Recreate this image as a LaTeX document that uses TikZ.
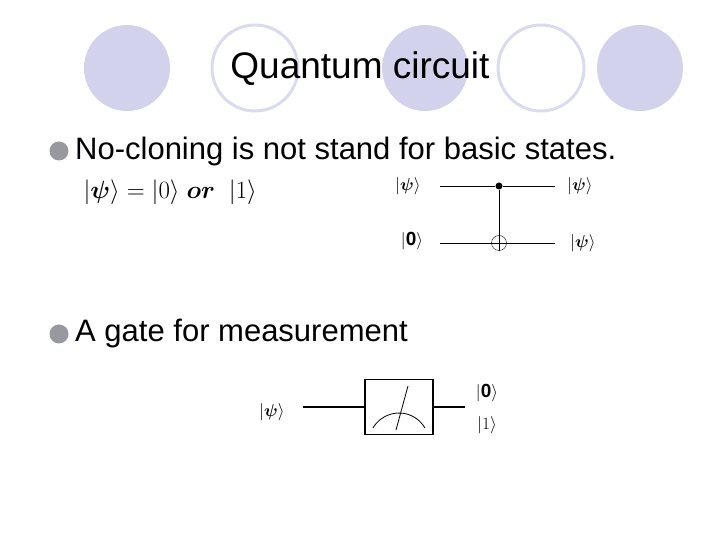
\documentclass[tikz,border=0pt]{standalone}
\usepackage{fontspec}
\setmainfont{Liberation Sans}
\usepackage{amsmath,bm}
\definecolor{lav}{RGB}{210,210,236}
\begin{document}
\begin{tikzpicture}[x=1pt,y=1pt,
  deco/.style = {circle, minimum size=86pt, inner sep=0pt},
  full/.style = {deco, fill=lav},
  ring/.style = {deco, fill=white, draw=lav!80, line width=3pt},
  bullet/.style = {circle, fill=gray!70!lav, minimum size=19pt, inner sep=0pt},
  body/.style = {anchor=west, font=\fontsize{31}{33}\selectfont, inner sep=0pt},
  ket/.style = {font=\fontsize{19}{20}\selectfont, inner sep=1pt},
  wire/.style = {line width=0.8pt}]
\useasboundingbox (0,0) rectangle (720,540);
% decoration
\node[full] (c1) at (127,472) {};
\node[ring] (c2) at (255,472) {};
\node[full] (c3) at (425,472) {};
\node[ring] (c4) at (541,472) {};
\node[full] (c5) at (640,472) {};
\node (title) at (360,471) {\fontsize{37}{39}\selectfont Quantum circuit};
% bullets
\node[bullet] (b1) at (59,389) {};
\node[body] (t1) at (75,389) {No-cloning is not stand for basic states.};
\node[bullet] (b2) at (59,206) {};
\node[body] (t2) at (75,206) {A gate for measurement};
\node[anchor=west, font=\fontsize{26}{28}\selectfont] (eq) at (80,348)
  {$|\bm{\psi}\rangle=|0\rangle\;\bm{or}\;\;|1\rangle$};
% cloning circuit
\node[ket] (pin) at (408,354) {$|\bm{\psi}\rangle$};
\node[ket] (zin) at (412,299) {$|\mathbf{0}\rangle$};
\node[ket] (pout) at (580,354) {$|\bm{\psi}\rangle$};
\node[ket] (pout2) at (583,297) {$|\bm{\psi}\rangle$};
\coordinate (a1) at (440,354);
\coordinate (a2) at (555,354);
\coordinate (a3) at (440,297);
\coordinate (a4) at (555,297);
\node[circle, fill, inner sep=0pt, minimum size=7pt] (ctrl) at (499,354) {};
\node[circle, draw, inner sep=0pt, minimum size=15pt] (targ) at (499,297) {};
\draw[wire] (a1) -- (ctrl) -- (a2);
\draw[wire] (a3) -- (targ.west) (targ.east) -- (a4);
\draw[wire] (ctrl) -- (targ.south);
\draw[wire] (targ.west) -- (targ.east);
% measurement
\node[ket] (mpsi) at (272,128) {$|\bm{\psi}\rangle$};
\node[draw, line width=1.2pt, minimum width=68pt, minimum height=55pt] (meter) at (399,133) {};
\node[ket] (m0) at (487,147) {$|\mathbf{0}\rangle$};
\node[ket] (m1) at (487,115) {$|1\rangle$};
\draw[line width=1.2pt] (303,133) -- (meter.west);
\draw[line width=2pt] (meter.east) -- (465,133);
\draw[wire] (373,112) arc[start angle=150, end angle=30, radius=30];
\draw[wire] (396,110) -- (408,154);
\end{tikzpicture}
\end{document}
